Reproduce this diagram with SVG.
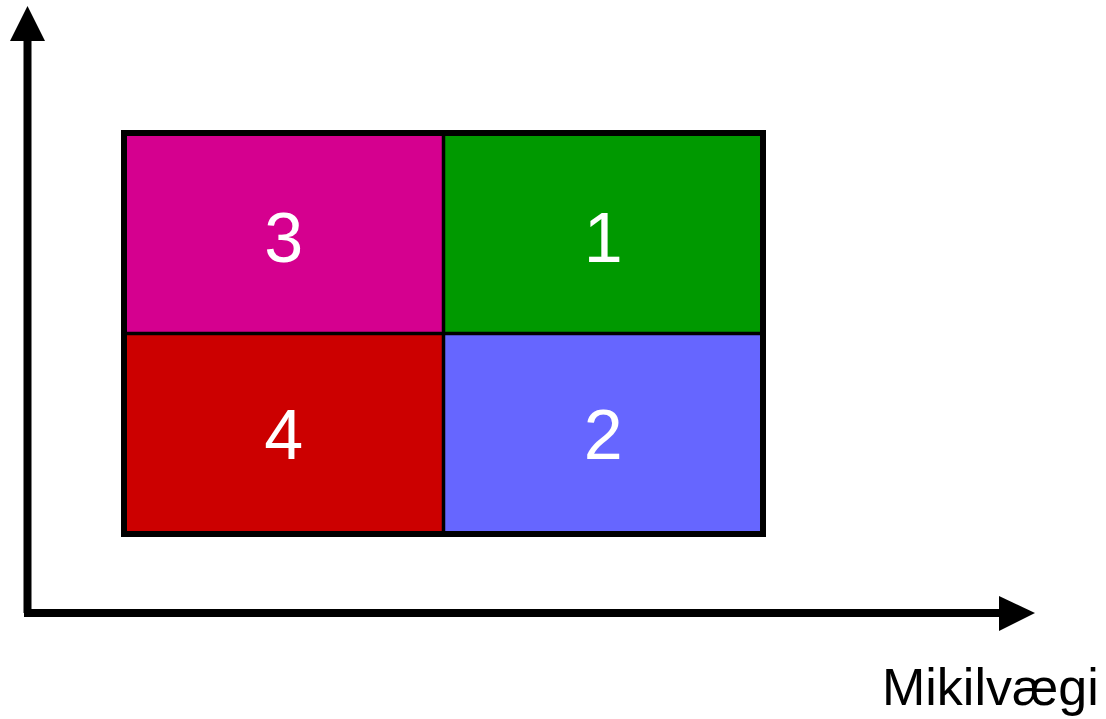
<svg xmlns="http://www.w3.org/2000/svg" width="1106" height="719" viewBox="0 0 1106 719">
<style>
.num{font-family:"Liberation Sans",Arial,sans-serif;font-size:70px;fill:#fff;text-anchor:middle}
.lbl{font-family:"Liberation Sans",Arial,sans-serif;font-size:52px;fill:#000}
.ax{stroke:#000;stroke-width:8;fill:none}
.div{stroke:#000;stroke-width:3.5}
</style>
<rect width="1106" height="719" fill="#fff"/>
<g id="axes">
<line class="ax" x1="27.5" y1="38" x2="27.5" y2="613"/>
<line class="ax" x1="24" y1="613" x2="1002" y2="613"/>
<polygon points="27.5,6 45,41 10,41" fill="#000"/>
<polygon points="1035,613 999,596 999,631" fill="#000"/>
</g>
<g id="q3"><rect x="124" y="133" width="319.5" height="200.5" fill="#D5008F"/><text class="num" x="283.7" y="262">3</text></g>
<g id="q1"><rect x="443.5" y="133" width="319.5" height="200.5" fill="#009900"/><text class="num" x="603.3" y="262">1</text></g>
<g id="q4"><rect x="124" y="333.5" width="319.5" height="200.5" fill="#CC0000"/><text class="num" x="283.7" y="459">4</text></g>
<g id="q2"><rect x="443.5" y="333.5" width="319.5" height="200.5" fill="#6666FF"/><text class="num" x="603.3" y="459">2</text></g>
<g id="grid">
<line class="div" x1="443.5" y1="133" x2="443.5" y2="534"/>
<line class="div" x1="124" y1="333.5" x2="763" y2="333.5"/>
<rect x="124" y="133" width="639" height="401" fill="none" stroke="#000" stroke-width="6"/>
</g>
<text class="lbl" x="882" y="705">Mikilvægi</text>
</svg>
